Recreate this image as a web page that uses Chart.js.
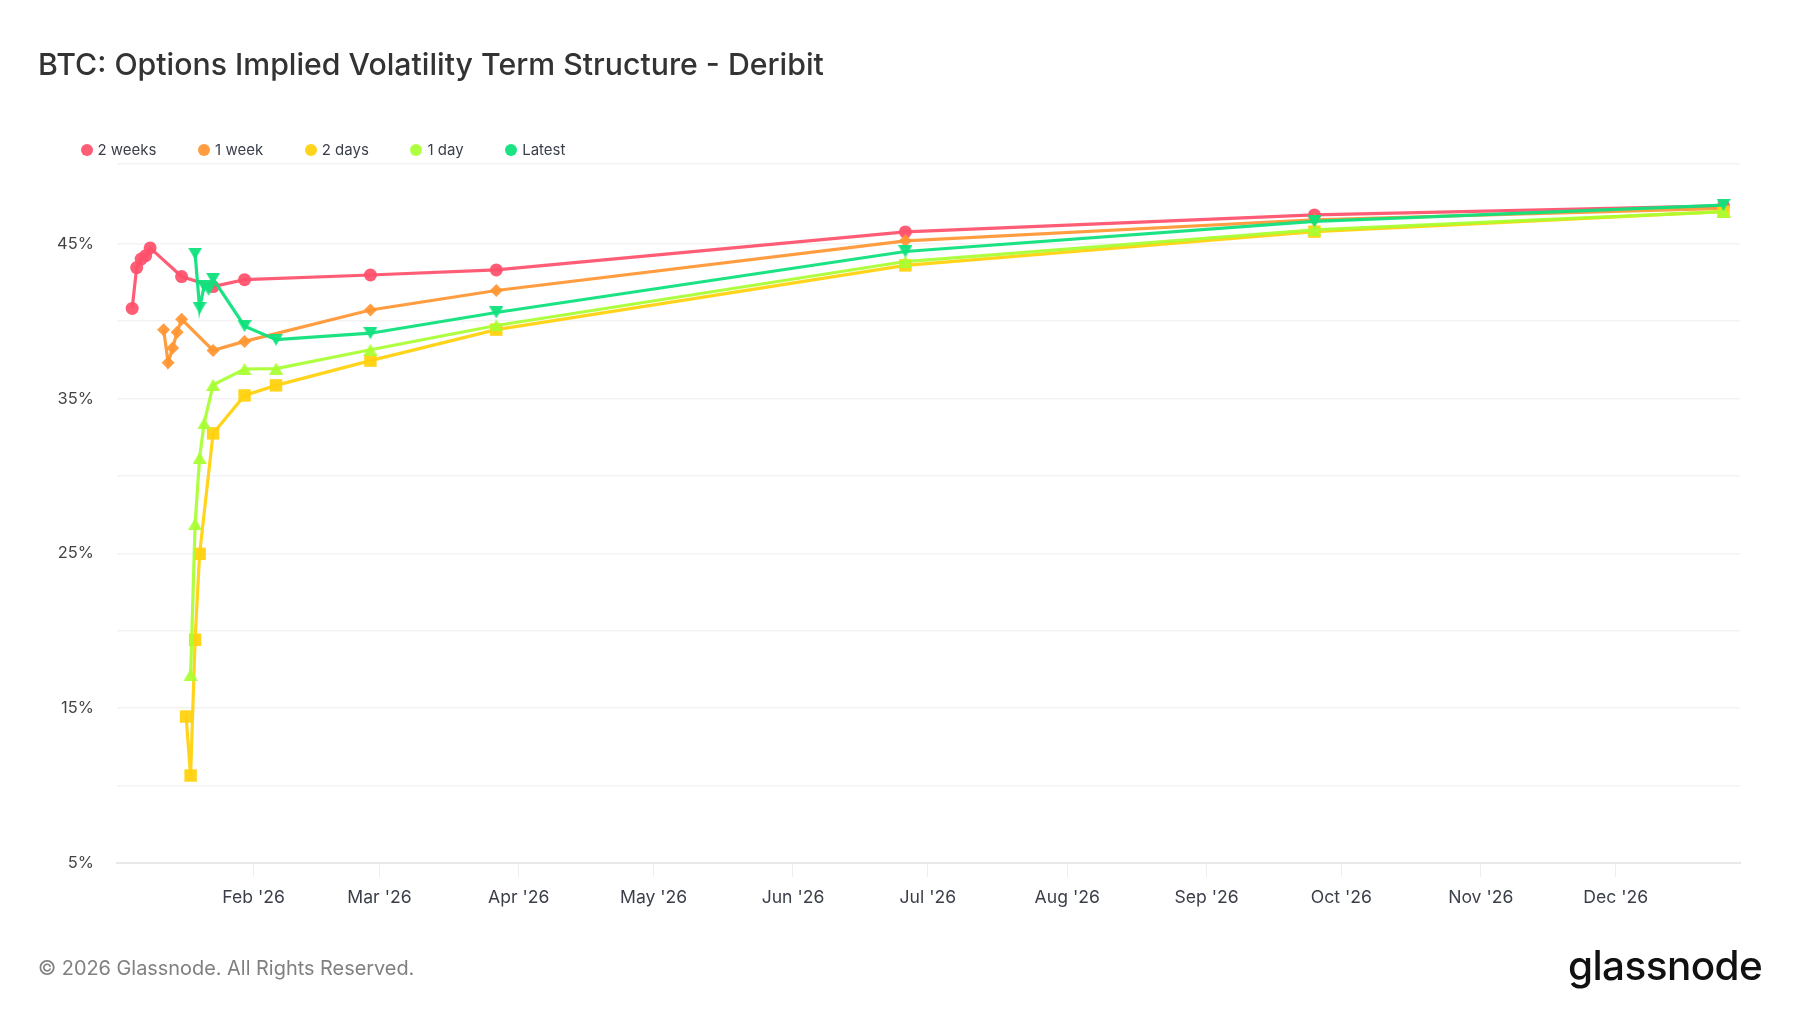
<!DOCTYPE html>
<html>
<head>
<meta charset="utf-8">
<title>BTC: Options Implied Volatility Term Structure - Deribit</title>
<script src="https://cdn.jsdelivr.net/npm/chart.js@4/dist/chart.umd.min.js"></script>
<style>
  html, body { margin: 0; padding: 0; background: #fff; }
  body { width: 1800px; height: 1013px; position: relative; overflow: hidden; font-family: Inter, sans-serif; }
  canvas { position: absolute; left: 0; top: 0; }
  #title { position: absolute; left: 38px; top: 46px; font-size: 30.25px; font-weight: 500; color: #333; white-space: nowrap; }
  #legend { position: absolute; left: 80.5px; top: 140px; display: flex; font-size: 15px; color: #3b3f4a; }
  #legend span.item { display: flex; align-items: center; margin-right: 41.6px; }
  #legend i { width: 12px; height: 12px; border-radius: 50%; margin-right: 5px; display: block; }
  #footer { position: absolute; left: 38px; top: 956px; font-size: 19.9px; color: #808080; white-space: nowrap; }
  #logo { position: absolute; left: 1568px; top: 941px; font-size: 40.5px; font-weight: 500; letter-spacing: -0.6px; color: #111; white-space: nowrap; }
</style>
</head>
<body>
<canvas id="chartCanvas" width="1800" height="1013"></canvas>
<div id="title">BTC: Options Implied Volatility Term Structure - Deribit</div>
<div id="legend"></div>
<div id="footer">© 2026 Glassnode. All Rights Reserved.</div>
<div id="logo">glassnode</div>
<script>
// expiries per series
const datesTwoWeeks = ['2026-01-05','2026-01-06','2026-01-07','2026-01-08','2026-01-09','2026-01-16','2026-01-23','2026-01-30','2026-02-27','2026-03-27','2026-06-26','2026-09-25','2026-12-25'];
const valuesTwoWeeks = [40.82,43.46,44.01,44.23,44.73,42.88,42.23,42.68,42.98,43.31,45.76,46.86,47.45];

const datesOneWeek = ['2026-01-12','2026-01-13','2026-01-14','2026-01-15','2026-01-16','2026-01-23','2026-01-30','2026-02-27','2026-03-27','2026-06-26','2026-09-25','2026-12-25'];
const valuesOneWeek = [39.45,37.31,38.26,39.28,40.12,38.11,38.69,40.72,41.98,45.19,46.55,47.28];

const datesTwoDays = ['2026-01-17','2026-01-18','2026-01-19','2026-01-20','2026-01-23','2026-01-30','2026-02-06','2026-02-27','2026-03-27','2026-06-26','2026-09-25','2026-12-25'];
const valuesTwoDays = [14.46,10.65,19.42,24.97,32.75,35.2,35.85,37.45,39.45,43.6,45.78,47.07];

const datesOneDay = ['2026-01-18','2026-01-19','2026-01-20','2026-01-21','2026-01-23','2026-01-30','2026-02-06','2026-02-27','2026-03-27','2026-06-26','2026-09-25','2026-12-25'];
const valuesOneDay = [17.16,26.9,31.17,33.4,35.89,36.91,36.93,38.15,39.72,43.85,45.9,47.07];

const datesLatest = ['2026-01-19','2026-01-20','2026-01-21','2026-01-22','2026-01-23','2026-01-30','2026-02-06','2026-02-27','2026-03-27','2026-06-26','2026-09-25','2026-12-25'];
const valuesLatest = [44.36,40.85,42.25,42.03,42.73,39.67,38.8,39.22,40.56,44.5,46.45,47.5];

const monthTicks = ['2026-02-01','2026-03-01','2026-04-01','2026-05-01','2026-06-01','2026-07-01','2026-08-01','2026-09-01','2026-10-01','2026-11-01','2026-12-01'];
const monthNames = ['Jan','Feb','Mar','Apr','May','Jun','Jul','Aug','Sep','Oct','Nov','Dec'];
const percentLabels = [5,15,25,35,45];

const toTime = d => new Date(d + 'T00:00:00Z').getTime();
const points = (dates, values) => dates.map((d, i) => ({ x: toTime(d), y: values[i] }));

// triangles centred on their box, the built-in ones sit too high
function triangleIcon(color, up) {
  const c = document.createElement('canvas');
  c.width = 14;
  c.height = 12;
  const g = c.getContext('2d');
  g.fillStyle = color;
  g.beginPath();
  if (up) {
    g.moveTo(7, 0); g.lineTo(14, 12); g.lineTo(0, 12);
  } else {
    g.moveTo(0, 0); g.lineTo(14, 0); g.lineTo(7, 12);
  }
  g.closePath();
  g.fill();
  return c;
}

function makeSeries(label, dates, values, color, style, radius, order) {
  return {
    label: label,
    data: points(dates, values),
    borderColor: color,
    backgroundColor: color,
    borderWidth: 3.2,
    tension: 0,
    pointStyle: style,
    pointRadius: radius,
    pointHoverRadius: radius,
    pointBorderWidth: 0,
    order: order
  };
}

const red = 'rgba(255,80,108,0.93)';
const orange = 'rgba(255,150,50,0.93)';
const yellow = 'rgba(255,210,15,0.95)';
const lime = 'rgba(168,255,50,0.93)';
const green = 'rgba(15,225,125,0.95)';

const datasets = [
  makeSeries('2 weeks', datesTwoWeeks, valuesTwoWeeks, red, 'circle', 6.5, 4),
  makeSeries('1 week', datesOneWeek, valuesOneWeek, orange, 'rectRot', 6.5, 3),
  makeSeries('2 days', datesTwoDays, valuesTwoDays, yellow, 'rect', 8.8, 2),
  makeSeries('1 day', datesOneDay, valuesOneDay, lime, triangleIcon(lime, true), 6, 1),
  makeSeries('Latest', datesLatest, valuesLatest, green, triangleIcon(green, false), 6, 0)
];

const chart = new Chart(document.getElementById('chartCanvas').getContext('2d'), {
  type: 'line',
  data: { datasets: datasets },
  options: {
    responsive: false,
    animation: false,
    devicePixelRatio: 1,
    layout: { padding: { top: 164, right: 60, left: 0, bottom: 0 } },
    plugins: { legend: { display: false }, tooltip: { enabled: false } },
    scales: {
      x: {
        type: 'linear',
        min: Date.UTC(2026, 0, 1, 15),
        max: Date.UTC(2026, 11, 28, 16),
        afterFit: s => { s.height = 150; },
        afterBuildTicks: s => { s.ticks = monthTicks.map(d => ({ value: toTime(d) })); },
        grid: { drawOnChartArea: false, drawTicks: true, tickLength: 14, color: '#eeeeee', lineWidth: 1 },
        border: { display: true, color: '#e8e8e8', width: 2 },
        ticks: {
          autoSkip: false,
          maxRotation: 0,
          padding: 10,
          color: '#3b3f4a',
          font: { family: 'Inter', size: 17.6 },
          callback: v => {
            const d = new Date(v);
            return monthNames[d.getUTCMonth()] + " '" + String(d.getUTCFullYear()).slice(2);
          }
        }
      },
      y: {
        min: 5,
        max: 50.15,
        afterFit: s => { s.width = 117; },
        grid: { color: '#f3f3f3', lineWidth: 1.5, drawTicks: false },
        border: { display: false },
        ticks: {
          stepSize: 5,
          padding: 23,
          color: '#444444',
          font: { family: 'Inter', size: 16.5 },
          callback: v => percentLabels.includes(v) ? v + '%' : ''
        }
      }
    }
  }
});

// legend built from the datasets, always round dots like the original
const legendEl = document.getElementById('legend');
datasets.forEach(ds => {
  const item = document.createElement('span');
  item.className = 'item';
  const dot = document.createElement('i');
  dot.style.background = ds.borderColor;
  item.appendChild(dot);
  item.appendChild(document.createTextNode(ds.label));
  legendEl.appendChild(item);
});
</script>
</body>
</html>
